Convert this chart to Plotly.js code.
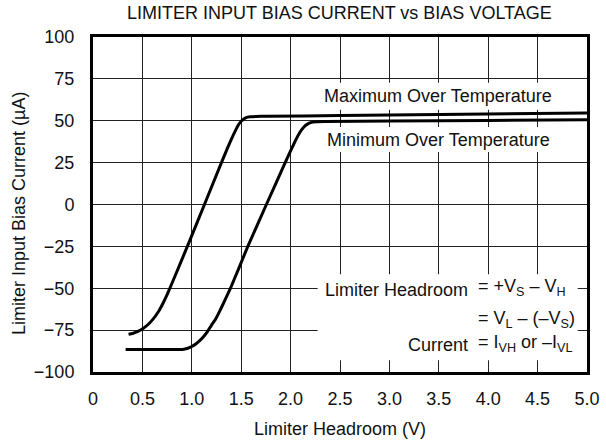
<!DOCTYPE html>
<html>
<head>
<meta charset="utf-8">
<script src="https://cdn.plot.ly/plotly-3.0.1.min.js"></script>
<style>html,body{margin:0;padding:0;background:#fff;}</style>
</head>
<body>
<div id="chart" style="width:606px;height:445px;"></div>
<script>
// Maximum Over Temperature curve
const maxX = [0.36, 0.40, 0.46, 0.51, 0.56, 0.61, 0.66, 0.71, 0.75, 0.778, 0.86, 0.955, 1.128, 1.30, 1.36, 1.42, 1.46, 1.49, 1.52, 1.55, 1.59, 1.65, 1.75, 2.5, 3.5, 5.0];
const maxY = [-77.5, -77.0, -75.6, -73.9, -71.5, -68.3, -64.2, -58.8, -53.8, -50.0, -38.5, -25.0, 0.0, 25.0, 33.5, 41.5, 46.3, 49.0, 50.8, 51.9, 52.4, 52.6, 52.7, 53.1, 53.7, 54.6];
// Minimum Over Temperature curve
const minX = [0.33, 0.6, 0.88, 0.92, 0.96, 1.00, 1.04, 1.08, 1.12, 1.16, 1.20, 1.24, 1.28, 1.32, 1.36, 1.395, 1.48, 1.567, 1.755, 1.945, 2.00, 2.05, 2.09, 2.13, 2.17, 2.21, 2.26, 2.35, 3.0, 4.0, 5.0];
const minY = [-86.6, -86.6, -86.6, -86.4, -85.8, -84.8, -83.3, -81.3, -78.8, -75.7, -72.0, -68.5, -64.0, -59.0, -54.0, -49.5, -37.5, -25.0, 0.0, 25.0, 32.0, 38.3, 42.7, 46.0, 48.0, 49.0, 49.4, 49.5, 49.8, 50.2, 50.6];

const xTickVals = [0, 0.5, 1.0, 1.5, 2.0, 2.5, 3.0, 3.5, 4.0, 4.5, 5.0];
const xTickText = ['0', '0.5', '1.0', '1.5', '2.0', '2.5', '3.0', '3.5', '4.0', '4.5', '5.0'];
const yTickVals = [-100, -75, -50, -25, 0, 25, 50, 75, 100];

const FONT = '"Liberation Sans", Arial, Helvetica, sans-serif';
const TXT = '#111';
const FS = 18;

const traces = [
  {x: maxX, y: maxY, mode: 'lines', line: {color: '#000', width: 3, shape: 'spline', smoothing: 0.4}, hoverinfo: 'skip', showlegend: false},
  {x: minX, y: minY, mode: 'lines', line: {color: '#000', width: 3, shape: 'spline', smoothing: 0.4}, hoverinfo: 'skip', showlegend: false}
];

const ann = (x, y, text, xanchor) => ({x: x, y: y, xref: 'x', yref: 'y', text: text, showarrow: false,
  xanchor: xanchor, yanchor: 'middle', font: {family: FONT, size: FS, color: TXT}});

const whiteBox = (x0, x1, y0, y1) => ({type: 'rect', xref: 'x', yref: 'y', x0: x0, x1: x1, y0: y0, y1: y1,
  fillcolor: '#fff', line: {width: 0}, layer: 'between'});

const layout = {
  width: 606, height: 445,
  margin: {l: 93, r: 19, t: 37, b: 73},
  paper_bgcolor: '#fff', plot_bgcolor: '#fff',
  font: {family: FONT, size: FS, color: TXT},
  title: {text: 'LIMITER INPUT BIAS CURRENT vs BIAS VOLTAGE', x: 0.56, xanchor: 'center', y: 0.971, yanchor: 'middle',
          font: {family: FONT, size: FS, color: TXT}},
  xaxis: {
    range: [0, 5], tickvals: xTickVals, ticktext: xTickText,
    showgrid: true, gridcolor: '#222', gridwidth: 1, zeroline: false,
    showline: true, mirror: true, linecolor: '#000', linewidth: 3,
    ticks: 'outside', ticklen: 8, tickcolor: 'rgba(0,0,0,0)',
    tickfont: {family: FONT, size: FS, color: TXT},
    title: {text: 'Limiter Headroom (V)', font: {family: FONT, size: FS, color: TXT}, standoff: 15}
  },
  yaxis: {
    range: [-100, 100], tickvals: yTickVals,
    showgrid: true, gridcolor: '#222', gridwidth: 1, zeroline: false,
    showline: true, mirror: true, linecolor: '#000', linewidth: 3,
    ticks: 'outside', ticklen: 12, tickcolor: 'rgba(0,0,0,0)',
    tickfont: {family: FONT, size: FS, color: TXT}
  },
  shapes: [
    whiteBox(2.274, 4.744, 56.5, 72.7),
    whiteBox(2.274, 4.744, 31.4, 46.3),
    whiteBox(2.274, 4.906, -93.0, -41.6)
  ],
  annotations: [
    {x: -0.1498, y: 0.4746, xref: 'paper', yref: 'paper', text: 'Limiter Input Bias Current (µA)', showarrow: false,
     textangle: -90, xanchor: 'center', yanchor: 'middle', font: {family: FONT, size: FS, color: TXT}},
    ann(3.489, 64.5, 'Maximum Over Temperature', 'center'),
    ann(3.492, 38.6, 'Minimum Over Temperature', 'center'),
    ann(3.813, -51.0, 'Limiter Headroom', 'right'),
    ann(3.873, -49.8, '= +V<sub>S</sub> – V<sub>H</sub>', 'left'),
    ann(3.873, -68.8, '= V<sub>L</sub> – (–V<sub>S</sub>)', 'left'),
    ann(3.813, -84.0, 'Current', 'right'),
    ann(3.873, -82.8, '= I<sub>VH</sub> or –I<sub>VL</sub>', 'left')
  ]
};

Plotly.newPlot('chart', traces, layout, {staticPlot: true, displayModeBar: false});
</script>
</body>
</html>
